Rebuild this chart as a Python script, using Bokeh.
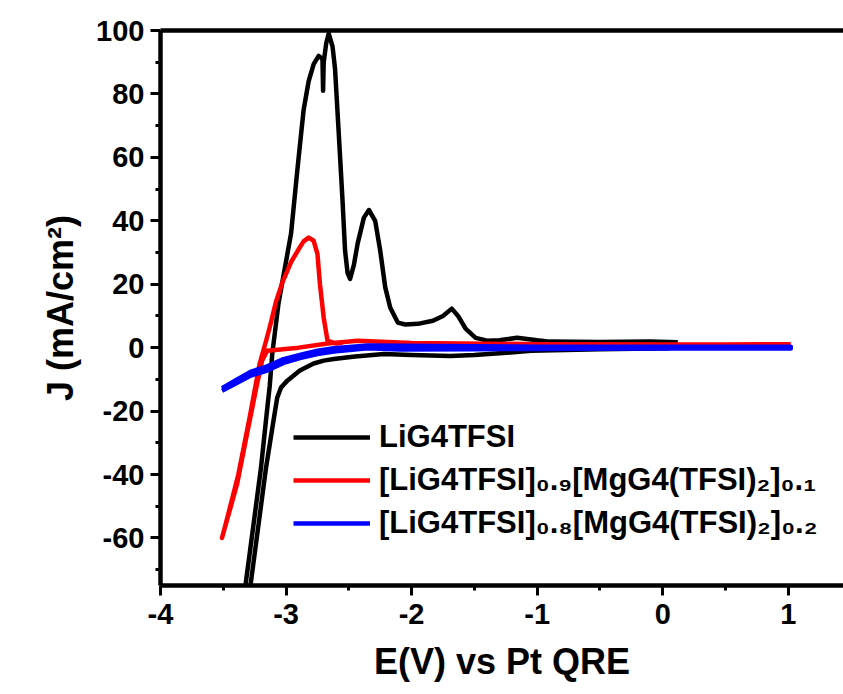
from bokeh.plotting import figure
from bokeh.models import Range1d, LinearAxis, FixedTicker, Legend, LegendItem
from bokeh.embed import file_html
from bokeh.resources import INLINE

# ---- data ----
black_x = [0.12, 0.05, -0.5, -1.05, -1.3, -1.5, -1.69, -2.0, -2.22, -2.45, -2.62, -2.70, -2.78,
           -2.89, -2.99, -3.04, -3.07, -3.10, -3.16, -3.22, -3.28, -3.31, -3.33,
           -3.32, -3.26, -3.20, -3.16, -3.13, -3.11, -3.06, -3.01, -2.96, -2.91, -2.86, -2.82,
           -2.78, -2.74, -2.71, -2.705, -2.70, -2.68, -2.66, -2.63, -2.61, -2.58, -2.55, -2.53,
           -2.51, -2.49, -2.46, -2.43, -2.38, -2.34, -2.29, -2.25, -2.21, -2.17, -2.11, -2.05,
           -1.95, -1.83, -1.75, -1.68, -1.63, -1.57, -1.49, -1.40, -1.30, -1.16, -1.0, -0.9,
           -0.5, -0.1, 0.12]
black_y = [1.0, -0.2, -0.5, -1.0, -1.8, -2.3, -2.6, -2.3, -2.0, -2.8, -3.6, -4.1, -5.0,
           -7.2, -10.4, -12.6, -15.7, -23.0, -38.0, -56.0, -74.0, -84.0, -90.0,
           -74.0, -56.0, -38.0, -23.0, -12.0, -2.0, 14.0, 25.0, 36.0, 56.0, 75.0, 84.0,
           89.4, 92.0, 91.0, 81.0, 90.0, 96.0, 99.0, 95.0, 88.0, 67.4, 46.3, 30.6,
           23.5, 21.7, 26.0, 32.8, 41.0, 43.4, 40.0, 30.6, 19.0, 12.6, 7.9, 7.3,
           7.5, 8.5, 10.0, 12.3, 10.0, 6.0, 3.1, 2.2, 2.3, 3.1, 2.3, 1.9,
           1.8, 1.9, 1.7]

red_x = [1.02, 0.5, 0.0, -1.0, -2.0, -2.43, -2.67, -2.9, -3.15, -3.19, -3.23, -3.31, -3.39, -3.51,
         -3.47, -3.38, -3.29, -3.21, -3.16, -3.12, -3.08, -3.03, -2.96, -2.90, -2.86, -2.82, -2.78,
         -2.75, -2.73, -2.70, -2.67, -2.6, -2.55]
red_y = [1.1, 1.0, 1.0, 1.1, 1.5, 2.2, 1.3, 0.0, -1.0, -4.0, -11.3, -27.0, -43.0, -60.0,
         -54.0, -40.0, -22.0, -5.0, 2.0, 8.0, 14.5, 20.5, 27.0, 31.0, 33.5, 34.7, 33.7,
         29.6, 20.0, 9.4, 2.2, 1.3, 1.5]

blue_x = [-3.51, -3.4, -3.28, -3.15, -3.02, -2.89, -2.75, -2.62, -2.35, -2.09, -1.5, -1.0, 0.0, 1.02,
          1.02, 0.0, -1.0, -1.5, -2.09, -2.35, -2.62, -2.75, -2.89, -3.02, -3.15, -3.28, -3.4, -3.51]
blue_y = [-12.8, -10.3, -7.6, -5.9, -3.6, -2.3, -1.0, -0.2, 0.7, 0.6, 0.4, 0.3, 0.3, 0.3,
          -0.3, -0.3, -0.4, -0.5, -0.6, -0.2, -1.2, -2.0, -3.3, -4.8, -7.2, -8.8, -11.3, -13.6]

labels = ["LiG4TFSI",
          "[LiG4TFSI]\u2080.\u2089[MgG4(TFSI)\u2082]\u2080.\u2081",
          "[LiG4TFSI]\u2080.\u2088[MgG4(TFSI)\u2082]\u2080.\u2082"]
colors = ["#000000", "#ff0000", "#0000ff"]

x_ticks = [-4, -3, -2, -1, 0, 1]
y_ticks = [-60, -40, -20, 0, 20, 40, 60, 80, 100]

FONT = "Liberation Sans"

p = figure(width=843, height=694, output_backend="svg", toolbar_location=None,
           x_range=Range1d(-4, 1.44), y_range=Range1d(-75, 100),
           min_border_left=160, min_border_right=0, min_border_top=30, min_border_bottom=109)
p.outline_line_color = None
p.xgrid.visible = False
p.ygrid.visible = False
p.background_fill_color = "white"
p.border_fill_color = "white"

r_black = p.line(black_x, black_y, line_color=colors[0], line_width=4.5, line_join="round")
r_red = p.line(red_x, red_y, line_color=colors[1], line_width=4.5, line_join="round")
r_blue = p.line(blue_x, blue_y, line_color=colors[2], line_width=4.5, line_join="round")

for ax in (p.xaxis[0], p.yaxis[0]):
    ax.axis_line_width = 4.5
    ax.major_tick_line_width = 3
    ax.minor_tick_line_width = 3
    ax.major_tick_in = 0
    ax.major_tick_out = 10
    ax.minor_tick_in = 0
    ax.minor_tick_out = 5
    ax.major_label_text_font = FONT
    ax.major_label_text_font_style = "bold"
    ax.major_label_text_font_size = "29px"
    ax.major_label_text_color = "black"
    ax.axis_label_text_font = FONT
    ax.axis_label_text_font_style = "bold"
    ax.axis_label_text_font_size = "36px"
    ax.axis_label_text_color = "black"

p.xaxis[0].ticker = FixedTicker(ticks=x_ticks, minor_ticks=[-3.5, -2.5, -1.5, -0.5, 0.5])
p.yaxis[0].ticker = FixedTicker(ticks=y_ticks,
                                minor_ticks=[-70, -50, -30, -10, 10, 30, 50, 70, 90])
p.xaxis[0].major_label_overrides = {t: str(t) for t in x_ticks}
p.yaxis[0].major_label_overrides = {t: str(t) for t in y_ticks}
p.xaxis[0].major_label_standoff = 8
p.yaxis[0].major_label_standoff = 6
p.xaxis[0].axis_label = "E(V) vs Pt QRE"
p.yaxis[0].axis_label = "J (mA/cm\u00b2)"
p.xaxis[0].axis_label_standoff = 14
p.yaxis[0].axis_label_standoff = 12

top = LinearAxis(ticker=FixedTicker(ticks=[]), axis_line_width=4.5,
                 major_tick_line_color=None, minor_tick_line_color=None,
                 major_label_text_font_size="0px")
p.add_layout(top, "above")

legend = Legend(items=[LegendItem(label=labels[0], renderers=[r_black]),
                       LegendItem(label=labels[1], renderers=[r_red]),
                       LegendItem(label=labels[2], renderers=[r_blue])],
                location=(133, 44), padding=0, margin=0, spacing=7,
                glyph_width=77, glyph_height=30, label_standoff=9,
                border_line_color=None, background_fill_alpha=0,
                label_text_font=FONT, label_text_font_style="bold",
                label_text_font_size="31px", label_text_color="black")
p.add_layout(legend)

open("out.html", "w").write(file_html(p, INLINE))
